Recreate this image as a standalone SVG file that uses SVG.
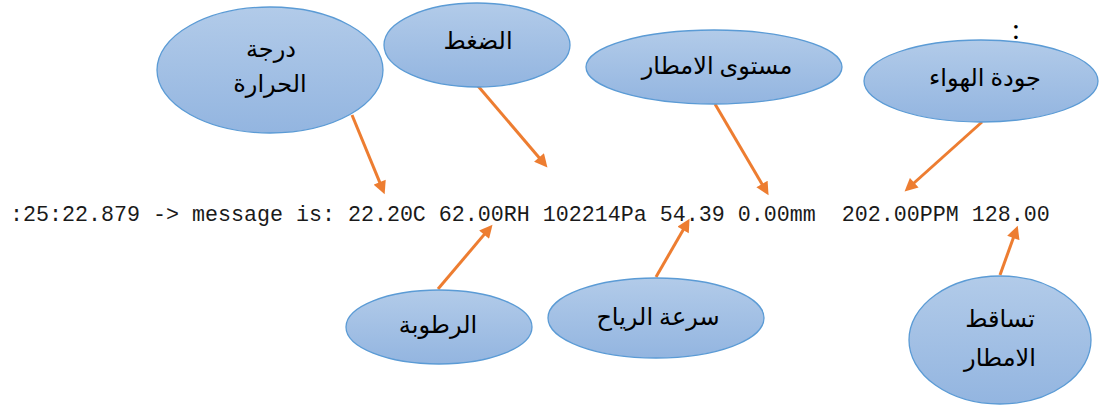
<svg xmlns="http://www.w3.org/2000/svg" width="1099" height="406" viewBox="0 0 1099 406">
<style>
.bub{fill:url(#g);stroke:#5b9bd5;stroke-width:1.3}
.ar{font-family:"Liberation Serif","DejaVu Sans","Noto Sans",serif;font-size:24px;fill:#000;text-anchor:middle}
.cn{stroke:#ed7d31;stroke-width:3;fill:none;marker-end:url(#ah)}
.log{font-family:"Liberation Mono","DejaVu Sans Mono",monospace;font-size:21.67px;fill:#1a1a1a;white-space:pre}
</style>
<defs>
<linearGradient id="g" x1="0" y1="0" x2="0" y2="1">
<stop offset="0" stop-color="#b2cbe9"/>
<stop offset="1" stop-color="#93b5e0"/>
</linearGradient>
<marker id="ah" viewBox="0 0 10 10" markerWidth="14" markerHeight="13" refX="2" refY="5" orient="auto" markerUnits="userSpaceOnUse">
<path d="M0,0 L10,5 L0,10 z" fill="#ed7d31"/>
</marker>
</defs>
<rect width="1099" height="406" fill="#fff"/>
<g id="connectors">
<line class="cn" x1="352" y1="115" x2="380.7" y2="184.6"/>
<line class="cn" x1="478" y1="86" x2="540.7" y2="159.5"/>
<line class="cn" x1="715" y1="104" x2="763.3" y2="186.3"/>
<line class="cn" x1="982" y1="122" x2="912.3" y2="184.5"/>
<line class="cn" x1="438" y1="289" x2="485.8" y2="232.6"/>
<line class="cn" x1="656" y1="277" x2="684.4" y2="227.7"/>
<line class="cn" x1="1000" y1="275" x2="1014.2" y2="235.5"/>
</g>
<g id="temp"><ellipse class="bub" cx="270" cy="70" rx="113" ry="63"/><text class="ar" x="271" y="57">درجة</text><text class="ar" x="270" y="92">الحرارة</text></g>
<g id="pressure"><ellipse class="bub" cx="477" cy="45" rx="93" ry="42"/><text class="ar" x="478" y="49">الضغط</text></g>
<g id="rainlevel"><ellipse class="bub" cx="714" cy="67" rx="128" ry="37"/><text class="ar" x="717" y="74">مستوى الامطار</text></g>
<g id="airquality"><ellipse class="bub" cx="981" cy="81" rx="117" ry="41"/><text class="ar" x="985" y="86">جودة الهواء</text></g>
<g id="humidity"><ellipse class="bub" cx="439" cy="327" rx="93" ry="37"/><text class="ar" x="438" y="333">الرطوبة</text></g>
<g id="wind"><ellipse class="bub" cx="656" cy="318" rx="108" ry="40"/><text class="ar" x="658" y="325">سرعة الرياح</text></g>
<g id="rainfall"><ellipse class="bub" cx="1000" cy="340" rx="91" ry="64"/><text class="ar" x="1000" y="327">تساقط</text><text class="ar" x="1000" y="366">الامطار</text></g>
<text x="1016" y="39" style="font-family:'Liberation Serif',serif;font-size:30px;text-anchor:middle;fill:#000">:</text>
<text class="log" x="10" y="221">:25:22.879 -&gt; message is: 22.20C 62.00RH 102214Pa 54.39 0.00mm  202.00PPM 128.00</text>
</svg>
